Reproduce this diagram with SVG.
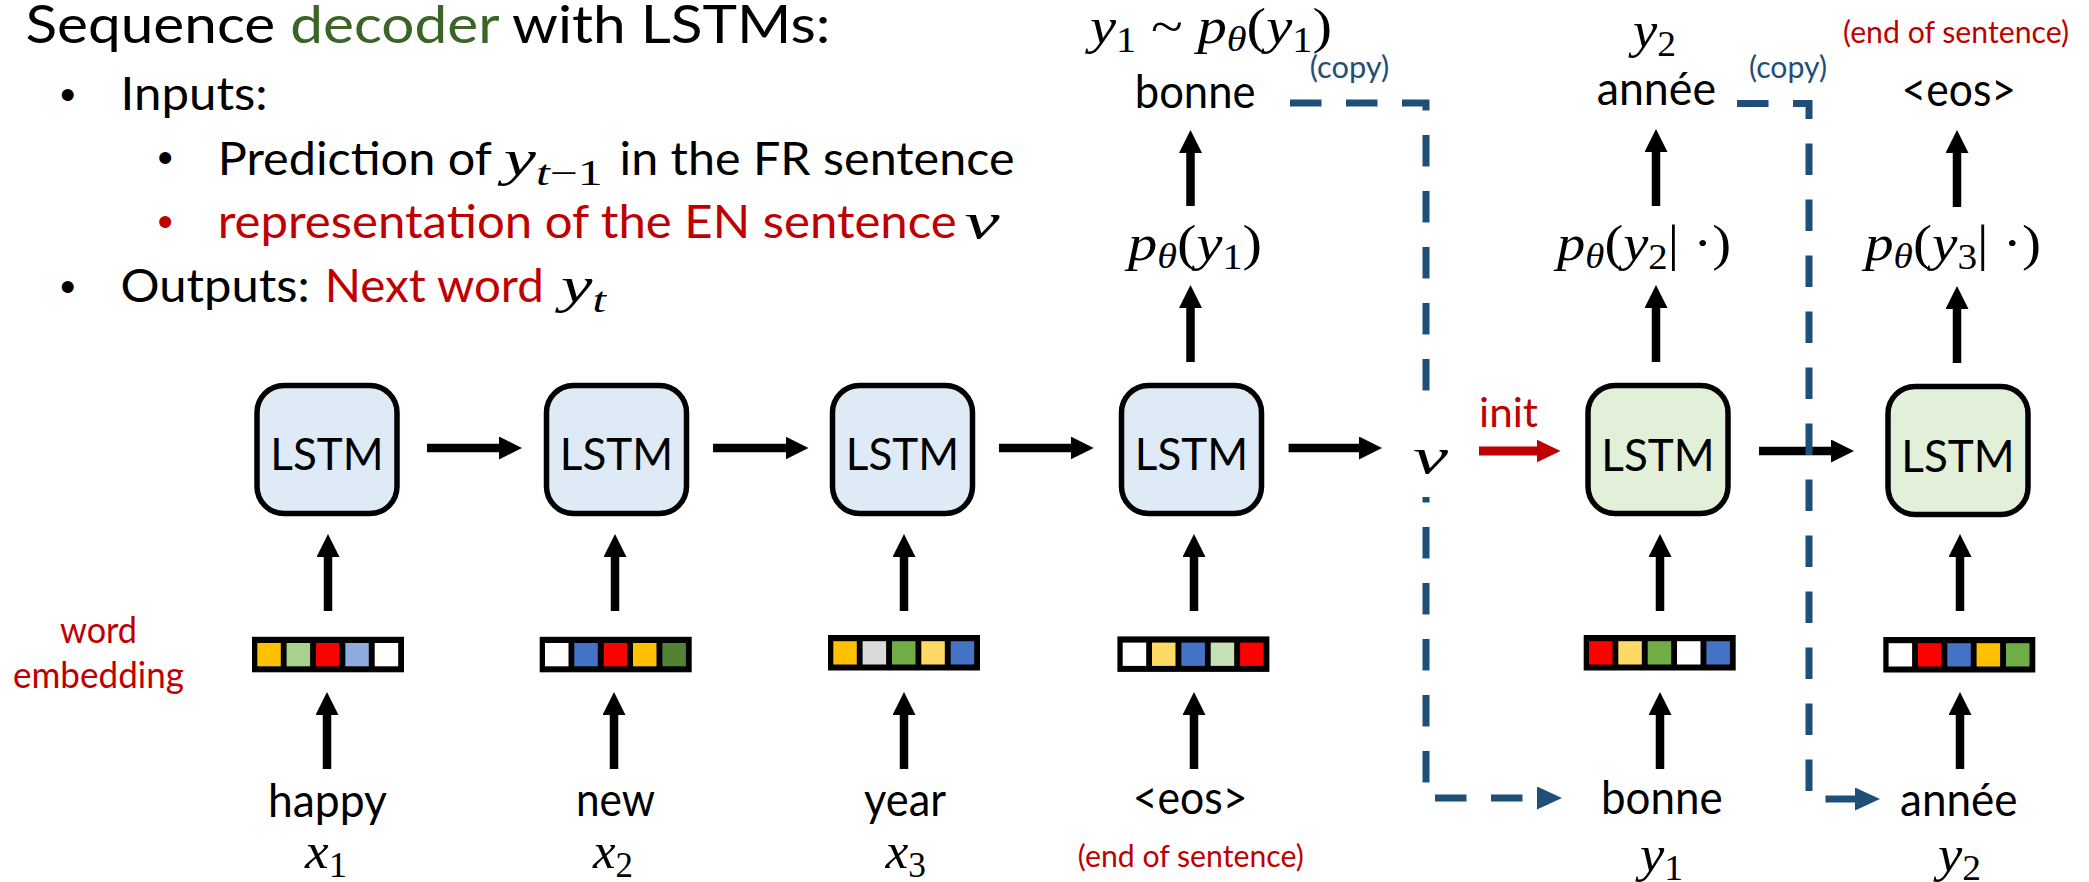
<svg xmlns="http://www.w3.org/2000/svg" width="2089" height="882" viewBox="0 0 2089 882">
  <defs>
    <style>
      .t { font-family: Lato, "Liberation Sans", sans-serif; fill: #000; }
      .red { fill: #C00000; }
      .blu { fill: #1F4E79; }
      .grn { fill: #3B6426; }
      .m { font-family: "Liberation Serif", "DejaVu Serif", serif; font-size: 51px; fill: #000; }
      .i { font-style: italic; }
      .s { font-size: 35px; font-style: normal; }
      .si { font-size: 35px; font-style: italic; }
      .box { stroke: #000; stroke-width: 5.5; }
      .enc { fill: #DEEBF7; }
      .dec { fill: #E2F0D9; }
      .lbl { font-size: 46px; }
      .lstm { font-size: 44px; text-anchor: middle; }
      .arr { stroke: #000; stroke-width: 8.5; fill: none; }
      .arr-r { stroke: #C00000; stroke-width: 9; fill: none; }
      .copy { stroke: #1F4E79; stroke-width: 7; fill: none; stroke-dasharray: 31.5 24.5; }
    </style>
    <marker id="ah" markerUnits="userSpaceOnUse" markerWidth="23" markerHeight="23" viewBox="0 0 23 23" refX="1" refY="11.5" orient="auto">
      <path d="M0,0L23,11.5L0,23z" fill="#000"/>
    </marker>
    <marker id="ah-r" markerUnits="userSpaceOnUse" markerWidth="24" markerHeight="23" viewBox="0 0 24 23" refX="1" refY="11.5" orient="auto">
      <path d="M0,0L24,11.5L0,23z" fill="#C00000"/>
    </marker>
    <marker id="ah-b" markerUnits="userSpaceOnUse" markerWidth="25" markerHeight="23" viewBox="0 0 25 23" refX="1" refY="11.5" orient="auto">
      <path d="M0,0L25,11.5L0,23z" fill="#1F4E79"/>
    </marker>
  </defs>

  <rect width="2089" height="882" fill="#fff"/>

  <!-- heading and bullet list -->
  <g id="heading">
    <text class="t" x="25.5" y="43" font-size="52" textLength="805" lengthAdjust="spacingAndGlyphs">Sequence <tspan class="grn">decoder</tspan> with LSTMs:</text>
    <text x="60" y="110" font-family="Liberation Sans, sans-serif" font-size="44">•</text>
    <text class="t" x="120.6" y="110" font-size="46" textLength="147" lengthAdjust="spacingAndGlyphs">Inputs:</text>
    <text x="157.5" y="173" font-family="Liberation Sans, sans-serif" font-size="44">•</text>
    <text class="t" x="217.7" y="175" font-size="46" textLength="274" lengthAdjust="spacingAndGlyphs">Prediction of</text>
    <text class="m" x="503.7" y="175" textLength="99" lengthAdjust="spacingAndGlyphs"><tspan class="i">y</tspan><tspan class="si" dy="10">t</tspan><tspan class="s">−1</tspan></text>
    <text class="t" x="619.5" y="175" font-size="46" textLength="395" lengthAdjust="spacingAndGlyphs">in the FR sentence</text>
    <text class="red" x="157.5" y="237" font-family="Liberation Sans, sans-serif" font-size="44">•</text>
    <text class="t red" x="217.7" y="238.3" font-size="46" textLength="739" lengthAdjust="spacingAndGlyphs">representation of the EN sentence</text>
    <text class="m red i" x="964.5" y="238.3" font-size="54" textLength="35" lengthAdjust="spacingAndGlyphs">v</text>
    <text x="60" y="302" font-family="Liberation Sans, sans-serif" font-size="44">•</text>
    <text class="t" x="120.6" y="301.7" font-size="46" textLength="189" lengthAdjust="spacingAndGlyphs">Outputs:</text>
    <text class="t red" x="324.8" y="301.7" font-size="46" textLength="219" lengthAdjust="spacingAndGlyphs">Next word</text>
    <text class="m red" x="561" y="301.7" textLength="45" lengthAdjust="spacingAndGlyphs"><tspan class="i">y</tspan><tspan class="si" dy="10">t</tspan></text>
  </g>

  <!-- arrows and copy paths -->
  <g id="connectors">
    <!-- recurrent links -->
    <line class="arr" x1="427" y1="448" x2="500" y2="448" marker-end="url(#ah)"/>
    <line class="arr" x1="713" y1="448" x2="786.5" y2="448" marker-end="url(#ah)"/>
    <line class="arr" x1="999" y1="448" x2="1071.7" y2="448" marker-end="url(#ah)"/>
    <line class="arr" x1="1288.6" y1="448" x2="1360" y2="448" marker-end="url(#ah)"/>
    <line class="arr-r" x1="1479" y1="451" x2="1537.5" y2="451" marker-end="url(#ah-r)"/>
    <line class="arr" x1="1759" y1="451" x2="1832" y2="451" marker-end="url(#ah)"/>
    <!-- embedding to LSTM -->
    <line class="arr" x1="328" y1="611" x2="328" y2="556" marker-end="url(#ah)"/>
    <line class="arr" x1="615" y1="611" x2="615" y2="556" marker-end="url(#ah)"/>
    <line class="arr" x1="904" y1="611" x2="904" y2="556" marker-end="url(#ah)"/>
    <line class="arr" x1="1194" y1="611" x2="1194" y2="556" marker-end="url(#ah)"/>
    <line class="arr" x1="1660" y1="611" x2="1660" y2="556" marker-end="url(#ah)"/>
    <line class="arr" x1="1960" y1="611" x2="1960" y2="556" marker-end="url(#ah)"/>
    <!-- word to embedding -->
    <line class="arr" x1="327" y1="769" x2="327" y2="714" marker-end="url(#ah)"/>
    <line class="arr" x1="614" y1="769" x2="614" y2="714" marker-end="url(#ah)"/>
    <line class="arr" x1="904" y1="769" x2="904" y2="714" marker-end="url(#ah)"/>
    <line class="arr" x1="1194" y1="769" x2="1194" y2="714" marker-end="url(#ah)"/>
    <line class="arr" x1="1660" y1="769" x2="1660" y2="714" marker-end="url(#ah)"/>
    <line class="arr" x1="1960" y1="769" x2="1960" y2="714" marker-end="url(#ah)"/>
    <!-- LSTM to distribution -->
    <line class="arr" x1="1190.5" y1="362" x2="1190.5" y2="307" marker-end="url(#ah)"/>
    <line class="arr" x1="1656" y1="362" x2="1656" y2="307" marker-end="url(#ah)"/>
    <line class="arr" x1="1957" y1="363" x2="1957" y2="308" marker-end="url(#ah)"/>
    <!-- distribution to sampled word -->
    <line class="arr" x1="1190.5" y1="206" x2="1190.5" y2="152" marker-end="url(#ah)"/>
    <line class="arr" x1="1656" y1="206" x2="1656" y2="151" marker-end="url(#ah)"/>
    <line class="arr" x1="1957" y1="207" x2="1957" y2="152" marker-end="url(#ah)"/>
    <!-- copy of predicted word into next input -->
    <path class="copy" d="M1290,103 H1426 V798 H1538" marker-end="url(#ah-b)"/>
    <path class="copy" d="M1737,103.5 H1809 V799 H1856" marker-end="url(#ah-b)"/>
  </g>

  <!-- encoder cells -->
  <g id="lstm-enc-1"><rect class="box enc" x="257" y="385.5" width="140" height="128" rx="27"/><text class="t lstm" x="327" y="470">LSTM</text></g>
  <g id="lstm-enc-2"><rect class="box enc" x="546.5" y="385.5" width="140" height="128" rx="27"/><text class="t lstm" x="616.5" y="470">LSTM</text></g>
  <g id="lstm-enc-3"><rect class="box enc" x="832.5" y="385.5" width="140" height="128" rx="27"/><text class="t lstm" x="902.5" y="470">LSTM</text></g>
  <g id="lstm-enc-4"><rect class="box enc" x="1121.5" y="385.5" width="140" height="128" rx="27"/><text class="t lstm" x="1191.5" y="470">LSTM</text></g>
  <!-- decoder cells -->
  <g id="lstm-dec-1"><rect class="box dec" x="1588" y="385.5" width="140" height="128" rx="27"/><text class="t lstm" x="1658" y="471">LSTM</text></g>
  <g id="lstm-dec-2"><rect class="box dec" x="1888" y="386.5" width="140" height="128" rx="27"/><text class="t lstm" x="1958" y="472">LSTM</text></g>

  <!-- sentence vector -->
  <g id="vec-v">
    <rect x="1402" y="393" width="56" height="104" fill="#fff"/>
    <text class="m i" x="1413" y="473" font-size="70" textLength="35" lengthAdjust="spacingAndGlyphs">v</text>
    <text class="t red" x="1479" y="426.7" font-size="40" textLength="59" lengthAdjust="spacingAndGlyphs">init</text>
  </g>

  <!-- word embeddings -->
  <g id="emb-1">
    <rect x="252" y="636.8" width="152" height="35.5" fill="#000"/>
    <rect x="257.3" y="643" width="23.5" height="23.3" fill="#FFC000"/>
    <rect x="286.6" y="643" width="23.5" height="23.3" fill="#A9D18E"/>
    <rect x="316" y="643" width="23.5" height="23.3" fill="#FF0000"/>
    <rect x="345.3" y="643" width="23.5" height="23.3" fill="#8FAADC"/>
    <rect x="374.7" y="643" width="23.5" height="23.3" fill="#FFFFFF"/>
  </g>
  <g id="emb-2">
    <rect x="539.7" y="636.8" width="152" height="35.5" fill="#000"/>
    <rect x="545" y="643" width="23.5" height="23.3" fill="#FFFFFF"/>
    <rect x="574.3" y="643" width="23.5" height="23.3" fill="#4472C4"/>
    <rect x="603.7" y="643" width="23.5" height="23.3" fill="#FF0000"/>
    <rect x="633" y="643" width="23.5" height="23.3" fill="#FFC000"/>
    <rect x="662.4" y="643" width="23.5" height="23.3" fill="#548235"/>
  </g>
  <g id="emb-3">
    <rect x="828" y="635" width="152" height="35.5" fill="#000"/>
    <rect x="833.3" y="641.2" width="23.5" height="23.3" fill="#FFC000"/>
    <rect x="862.6" y="641.2" width="23.5" height="23.3" fill="#D9D9D9"/>
    <rect x="892" y="641.2" width="23.5" height="23.3" fill="#70AD47"/>
    <rect x="921.3" y="641.2" width="23.5" height="23.3" fill="#FFD966"/>
    <rect x="950.7" y="641.2" width="23.5" height="23.3" fill="#4472C4"/>
  </g>
  <g id="emb-4">
    <rect x="1117.4" y="636.4" width="152" height="35.5" fill="#000"/>
    <rect x="1122.7" y="642.6" width="23.5" height="23.3" fill="#FFFFFF"/>
    <rect x="1152" y="642.6" width="23.5" height="23.3" fill="#FFD966"/>
    <rect x="1181.4" y="642.6" width="23.5" height="23.3" fill="#4472C4"/>
    <rect x="1210.7" y="642.6" width="23.5" height="23.3" fill="#C5E0B4"/>
    <rect x="1240.1" y="642.6" width="23.5" height="23.3" fill="#FF0000"/>
  </g>
  <g id="emb-5">
    <rect x="1583.7" y="635" width="152" height="35.5" fill="#000"/>
    <rect x="1589" y="641.2" width="23.5" height="23.3" fill="#FF0000"/>
    <rect x="1618.3" y="641.2" width="23.5" height="23.3" fill="#FFD966"/>
    <rect x="1647.7" y="641.2" width="23.5" height="23.3" fill="#70AD47"/>
    <rect x="1677" y="641.2" width="23.5" height="23.3" fill="#FFFFFF"/>
    <rect x="1706.4" y="641.2" width="23.5" height="23.3" fill="#4472C4"/>
  </g>
  <g id="emb-6">
    <rect x="1883.3" y="637" width="152" height="35.5" fill="#000"/>
    <rect x="1888.6" y="643.2" width="23.5" height="23.3" fill="#FFFFFF"/>
    <rect x="1917.9" y="643.2" width="23.5" height="23.3" fill="#FF0000"/>
    <rect x="1947.3" y="643.2" width="23.5" height="23.3" fill="#4472C4"/>
    <rect x="1976.6" y="643.2" width="23.5" height="23.3" fill="#FFC000"/>
    <rect x="2006" y="643.2" width="23.5" height="23.3" fill="#70AD47"/>
  </g>
  <g id="emb-label">
    <text class="t red" x="60" y="643.3" font-size="37" textLength="77" lengthAdjust="spacingAndGlyphs">word</text>
    <text class="t red" x="13" y="688.3" font-size="37" textLength="171" lengthAdjust="spacingAndGlyphs">embedding</text>
  </g>

  <!-- input words -->
  <g id="in-1">
    <text class="t lbl" x="268" y="816.5" textLength="119" lengthAdjust="spacingAndGlyphs">happy</text>
    <text class="m" x="305" y="868" textLength="42" lengthAdjust="spacingAndGlyphs"><tspan class="i">x</tspan><tspan class="s" dy="9">1</tspan></text>
  </g>
  <g id="in-2">
    <text class="t lbl" x="576" y="815.5" textLength="79" lengthAdjust="spacingAndGlyphs">new</text>
    <text class="m" x="593" y="868" textLength="40" lengthAdjust="spacingAndGlyphs"><tspan class="i">x</tspan><tspan class="s" dy="9">2</tspan></text>
  </g>
  <g id="in-3">
    <text class="t lbl" x="864" y="815.5" textLength="82" lengthAdjust="spacingAndGlyphs">year</text>
    <text class="m" x="885.5" y="868" textLength="40.5" lengthAdjust="spacingAndGlyphs"><tspan class="i">x</tspan><tspan class="s" dy="9">3</tspan></text>
  </g>
  <g id="in-4">
    <text class="t lbl" x="1132.8" y="813.5" textLength="114.7" lengthAdjust="spacingAndGlyphs">&lt;eos&gt;</text>
    <text class="t red" x="1077.8" y="866.7" font-size="31" textLength="226" lengthAdjust="spacingAndGlyphs">(end of sentence)</text>
  </g>
  <g id="in-5">
    <text class="t lbl" x="1601" y="813.5" textLength="121.6" lengthAdjust="spacingAndGlyphs">bonne</text>
    <text class="m" x="1640" y="871" textLength="43" lengthAdjust="spacingAndGlyphs"><tspan class="i">y</tspan><tspan class="s" dy="9">1</tspan></text>
  </g>
  <g id="in-6">
    <text class="t lbl" x="1900" y="815.5" textLength="117.5" lengthAdjust="spacingAndGlyphs">année</text>
    <text class="m" x="1938" y="871" textLength="43" lengthAdjust="spacingAndGlyphs"><tspan class="i">y</tspan><tspan class="s" dy="9">2</tspan></text>
  </g>

  <!-- output distributions and words -->
  <g id="out-1">
    <text class="m" x="1128" y="260" textLength="134" lengthAdjust="spacingAndGlyphs"><tspan class="i">p</tspan><tspan class="si" dy="8">θ</tspan><tspan dy="-8">(</tspan><tspan class="i">y</tspan><tspan class="s" dy="9">1</tspan><tspan dy="-9">)</tspan></text>
    <text class="t lbl" x="1134.8" y="108" textLength="120.6" lengthAdjust="spacingAndGlyphs">bonne</text>
    <text class="m" x="1090" y="43" textLength="242" lengthAdjust="spacingAndGlyphs"><tspan class="i">y</tspan><tspan class="s" dy="9">1</tspan><tspan dy="-9"> ~ </tspan><tspan class="i">p</tspan><tspan class="si" dy="8">θ</tspan><tspan dy="-8">(</tspan><tspan class="i">y</tspan><tspan class="s" dy="9">1</tspan><tspan dy="-9">)</tspan></text>
    <text class="t blu" x="1309.8" y="78" font-size="30" textLength="79.5" lengthAdjust="spacingAndGlyphs">(copy)</text>
  </g>
  <g id="out-2">
    <text class="m" x="1557" y="260" textLength="174" lengthAdjust="spacingAndGlyphs"><tspan class="i">p</tspan><tspan class="si" dy="8">θ</tspan><tspan dy="-8">(</tspan><tspan class="i">y</tspan><tspan class="s" dy="9">2</tspan><tspan dy="-9">| ·)</tspan></text>
    <text class="t lbl" x="1596.7" y="105" textLength="119.3" lengthAdjust="spacingAndGlyphs">année</text>
    <text class="m" x="1633" y="46.7" textLength="43" lengthAdjust="spacingAndGlyphs"><tspan class="i">y</tspan><tspan class="s" dy="9">2</tspan></text>
    <text class="t blu" x="1749" y="78" font-size="30" textLength="78" lengthAdjust="spacingAndGlyphs">(copy)</text>
  </g>
  <g id="out-3">
    <text class="m" x="1865" y="260" textLength="176" lengthAdjust="spacingAndGlyphs"><tspan class="i">p</tspan><tspan class="si" dy="8">θ</tspan><tspan dy="-8">(</tspan><tspan class="i">y</tspan><tspan class="s" dy="9">3</tspan><tspan dy="-9">| ·)</tspan></text>
    <text class="t lbl" x="1901.6" y="106" textLength="114.4" lengthAdjust="spacingAndGlyphs">&lt;eos&gt;</text>
    <text class="t red" x="1843" y="43" font-size="31" textLength="226" lengthAdjust="spacingAndGlyphs">(end of sentence)</text>
  </g>
</svg>
